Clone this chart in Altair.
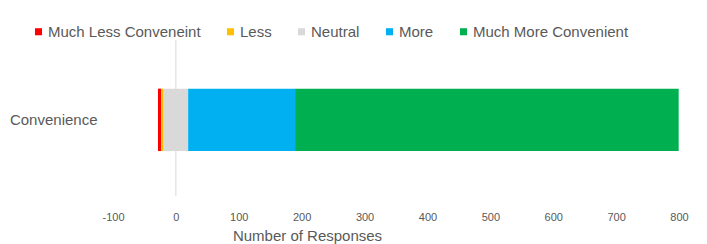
import altair as alt
import pandas as pd

categories = ["Much Less Conveneint", "Less", "Neutral", "More", "Much More Convenient"]
values = [5, 4, 39, 170, 610]
colors = ["#FF0000", "#FFC000", "#D9D9D9", "#00B0F0", "#00B050"]
question = "Convenience"
x_ticks = [-100, 0, 100, 200, 300, 400, 500, 600, 700, 800]

# diverging stack: negatives left of zero, neutral centred on zero
start = -(values[0] + values[1] + values[2] / 2)
rows = []
for c, v in zip(categories, values):
    rows.append({"q": question, "cat": c, "x": start, "x2": start + v, "n": v})
    start += v
df = pd.DataFrame(rows)

font = "Liberation Sans"
txt = "#595959"

bars = alt.Chart(df).mark_bar().encode(
    y=alt.Y("q:N", title=None,
            scale=alt.Scale(paddingInner=0.6, paddingOuter=0.3, align=0.52),
            axis=alt.Axis(ticks=False, domain=False, labelPadding=16,
                          labelFont=font, labelFontSize=15, labelColor=txt)),
    x=alt.X("x:Q", title="Number of Responses",
            scale=alt.Scale(domain=[-100, 800], nice=False, zero=False),
            axis=alt.Axis(values=x_ticks, ticks=False, domain=False, grid=False,
                          labelFlush=False, labelExpr="'' + datum.value",
                          labelPadding=15, labelFont=font, labelFontSize=11,
                          labelColor=txt, titleFont=font, titleFontSize=15,
                          titleFontWeight="normal", titleColor=txt,
                          titleX=194, titleY=44, titleAlign="center",
                          titleBaseline="alphabetic")),
    x2="x2:Q",
    color=alt.Color("cat:N", title=None,
                    scale=alt.Scale(domain=categories, range=colors),
                    legend=alt.Legend(orient="none", direction="horizontal",
                                      legendX=-82, legendY=-16,
                                      symbolType="square", symbolSize=50,
                                      symbolStrokeWidth=0, labelOffset=2,
                                      columnPadding=22, labelFont=font,
                                      labelFontSize=15, labelColor=txt)),
    tooltip=["cat:N", "n:Q"],
)

zero = alt.Chart(pd.DataFrame({"z": [0]})).mark_rule(color="#D9D9D9", strokeWidth=1).encode(
    x="z:Q"
)

chart = alt.layer(zero, bars).properties(
    width=566, height=156,
    autosize=alt.AutoSizeParams(type="none"),
    padding={"left": 105, "top": 32, "right": 20, "bottom": 48},
).configure_view(stroke=None)

chart.save("out.html", embed_options={"renderer": "svg", "actions": False})
